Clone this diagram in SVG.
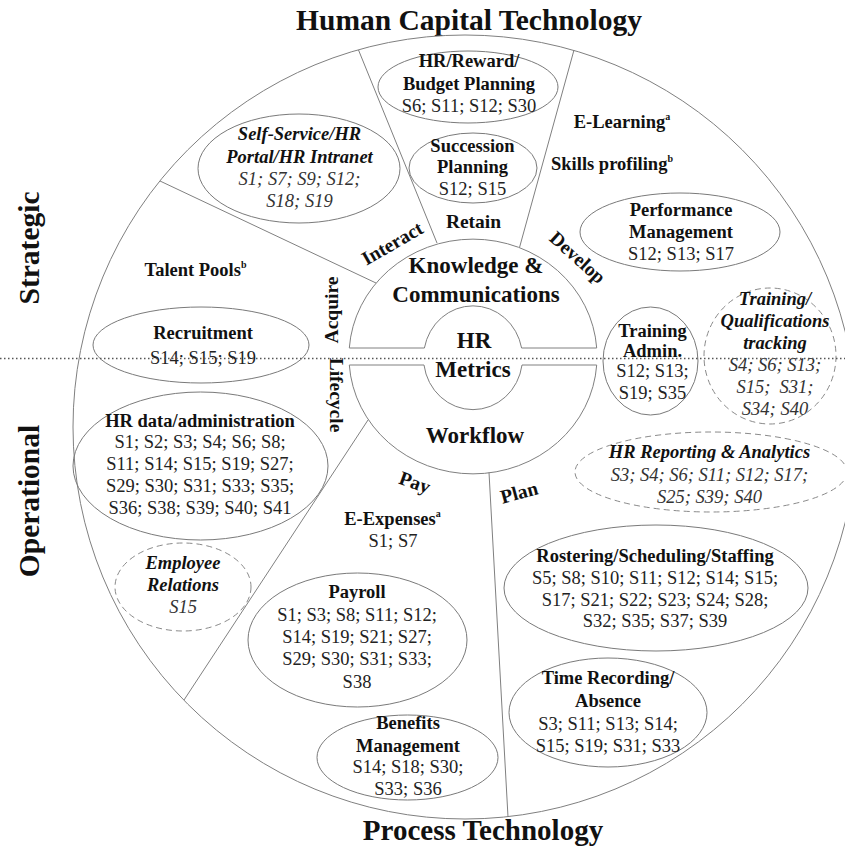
<svg xmlns="http://www.w3.org/2000/svg" width="845" height="847" viewBox="0 0 845 847">
<style>
.ln{fill:none;stroke:#808080;stroke-width:1}
.el{fill:none;stroke:#7a7a7a;stroke-width:1}
.ds{fill:none;stroke:#8a8a8a;stroke-width:1;stroke-dasharray:6,4}
text{font-family:"Liberation Serif","Times New Roman",serif;text-anchor:middle}
.t{font-size:29.5px;font-weight:bold;fill:#111}
.b{font-size:18.5px;font-weight:bold;fill:#111}
.bi{font-size:18.5px;font-weight:bold;font-style:italic;fill:#111}
.r{font-size:18.5px;fill:#222}
.i{font-size:18.5px;font-style:italic;fill:#333}
.lab{font-size:19.5px;font-weight:bold;fill:#111}
.core{font-size:23px;font-weight:bold;fill:#111}
.sup{font-size:10px;font-weight:bold}
</style>
<rect width="845" height="847" fill="#fff"/>

<g id="titles">
<text class="t" x="469" y="30">Human Capital Technology</text>
<text class="t" x="483" y="840" style="font-size:29px">Process Technology</text>
<text class="t" transform="translate(39,248) rotate(-90)">Strategic</text>
<text class="t" transform="translate(39,501) rotate(-90)">Operational</text>
</g>

<g id="connectors">
<circle class="ln" cx="465" cy="427" r="392"/>
<line class="ln" x1="358.5" y1="50" x2="437" y2="243"/>
<line class="ln" x1="574" y1="50" x2="519.5" y2="247.5"/>
<line class="ln" x1="160" y1="181" x2="376" y2="283"/>
<line class="ln" x1="184" y1="700" x2="368" y2="420"/>
<line class="ln" x1="508" y1="817" x2="489" y2="472.5"/>
</g>

<g id="core">
<path class="ln" d="M349.3,348 A124,117 0 0 1 596.7,348 L521.6,348 A49.5,52 0 0 0 424.4,348 Z"/>
<path class="ln" d="M349.3,365 L424,365 A49.5,52 0 0 0 522,365 L596.7,365 A124,117 0 0 1 349.3,365 Z"/>
<text class="core" x="476" y="273">Knowledge &amp;</text>
<text class="core" x="476" y="302">Communications</text>
<text class="core" x="474" y="348">HR</text>
<text class="core" x="473" y="377">Metrics</text>
<text class="core" x="475" y="443">Workflow</text>
</g>

<g id="ring-labels">
<text class="lab" transform="translate(392,243) rotate(-30)" y="7">Interact</text>
<text class="lab" x="473.5" y="228">Retain</text>
<text class="lab" transform="translate(578,257) rotate(42)" y="7">Develop</text>
<text class="lab" transform="translate(331,310) rotate(-90)" y="7">Acquire</text>
<text class="lab" transform="translate(337,395) rotate(90)" y="7">Lifecycle</text>
<text class="lab" transform="translate(415,482) rotate(20)" y="7">Pay</text>
<text class="lab" transform="translate(519,492) rotate(-15)" y="7">Plan</text>
</g>

<g id="hr-reward">
<ellipse class="el" cx="468" cy="87" rx="90" ry="36"/>
<text class="b" x="469" y="67">HR/Reward/</text>
<text class="b" x="469" y="89.5">Budget Planning</text>
<text class="r" x="469" y="111.5">S6; S11; S12; S30</text>
</g>

<g id="succession">
<ellipse class="el" cx="473" cy="168" rx="64" ry="35"/>
<text class="b" x="472.5" y="151.5">Succession</text>
<text class="b" x="472.5" y="173">Planning</text>
<text class="r" x="472.5" y="195">S12; S15</text>
</g>

<g id="self-service">
<ellipse class="el" cx="299" cy="168.5" rx="101" ry="54.5"/>
<text class="bi" x="299.5" y="140">Self-Service/HR</text>
<text class="bi" x="299.5" y="162.5">Portal/HR Intranet</text>
<text class="i" x="299.5" y="185">S1; S7; S9; S12;</text>
<text class="i" x="299.5" y="206.5">S18; S19</text>
</g>

<g id="e-learning">
<text class="b" x="622" y="128">E-Learning<tspan class="sup" dy="-8">a</tspan></text>
</g>
<g id="skills">
<text class="b" x="612" y="170">Skills profiling<tspan class="sup" dy="-8">b</tspan></text>
</g>

<g id="performance">
<ellipse class="el" cx="680" cy="232" rx="100" ry="39"/>
<text class="b" x="681" y="215.5">Performance</text>
<text class="b" x="681" y="237.5">Management</text>
<text class="r" x="681" y="260">S12; S13; S17</text>
</g>

<g id="training-admin">
<ellipse class="el" cx="650.5" cy="361" rx="47.5" ry="54"/>
<text class="b" x="652.5" y="337">Training</text>
<text class="b" x="652.5" y="356.5">Admin.</text>
<text class="r" x="652.5" y="377">S12; S13;</text>
<text class="r" x="652.5" y="399">S19; S35</text>
</g>

<g id="training-tracking">
<ellipse class="ds" cx="770" cy="356" rx="66" ry="68"/>
<text class="bi" x="775" y="305">Training/</text>
<text class="bi" x="775" y="327">Qualifications</text>
<text class="bi" x="775" y="349">tracking</text>
<text class="i" x="775" y="371">S4; S6; S13;</text>
<text class="i" x="775" y="393" xml:space="preserve">S15;  S31;</text>
<text class="i" x="775" y="415">S34; S40</text>
</g>

<g id="hr-reporting">
<ellipse class="ds" cx="711" cy="472" rx="136" ry="40"/>
<text class="bi" x="709.5" y="458">HR Reporting &amp; Analytics</text>
<text class="i" x="709.5" y="481">S3; S4; S6; S11; S12; S17;</text>
<text class="i" x="709.5" y="503">S25; S39; S40</text>
</g>

<g id="rostering">
<ellipse class="el" cx="656" cy="588" rx="152" ry="63"/>
<text class="b" x="655" y="562">Rostering/Scheduling/Staffing</text>
<text class="r" x="655" y="583.5">S5; S8; S10; S11; S12; S14; S15;</text>
<text class="r" x="655" y="605.5">S17; S21; S22; S23; S24; S28;</text>
<text class="r" x="655" y="627">S32; S35; S37; S39</text>
</g>

<g id="time-recording">
<ellipse class="el" cx="608" cy="712.5" rx="99" ry="54.5"/>
<text class="b" x="608" y="684">Time Recording/</text>
<text class="b" x="608" y="707">Absence</text>
<text class="r" x="608" y="730">S3; S11; S13; S14;</text>
<text class="r" x="608" y="752">S15; S19; S31; S33</text>
</g>

<g id="payroll">
<ellipse class="el" cx="357.5" cy="640" rx="109.5" ry="67"/>
<text class="b" x="357" y="598">Payroll</text>
<text class="r" x="357" y="621">S1; S3; S8; S11; S12;</text>
<text class="r" x="357" y="643">S14; S19; S21; S27;</text>
<text class="r" x="357" y="665">S29; S30; S31; S33;</text>
<text class="r" x="357" y="688">S38</text>
</g>

<g id="benefits">
<ellipse class="el" cx="407.5" cy="757.5" rx="90.5" ry="42.5"/>
<text class="b" x="408" y="729">Benefits</text>
<text class="b" x="408" y="751.5">Management</text>
<text class="r" x="408" y="773">S14; S18; S30;</text>
<text class="r" x="408" y="795">S33; S36</text>
</g>

<g id="e-expenses">
<text class="b" x="392.5" y="525">E-Expenses<tspan class="sup" dy="-8">a</tspan></text>
<text class="r" x="393" y="547">S1; S7</text>
</g>

<g id="hr-data">
<ellipse class="el" cx="200.5" cy="466" rx="127.5" ry="74"/>
<text class="b" x="200" y="426.5">HR data/administration</text>
<text class="r" x="200" y="448">S1; S2; S3; S4; S6; S8;</text>
<text class="r" x="200" y="470">S11; S14; S15; S19; S27;</text>
<text class="r" x="200" y="492">S29; S30; S31; S33; S35;</text>
<text class="r" x="200" y="514">S36; S38; S39; S40; S41</text>
</g>

<g id="recruitment">
<ellipse class="el" cx="201" cy="345" rx="108" ry="38"/>
<text class="b" x="203" y="339">Recruitment</text>
<text class="r" x="203" y="364">S14; S15; S19</text>
</g>

<g id="talent-pools">
<text class="b" x="195.5" y="276">Talent Pools<tspan class="sup" dy="-8">b</tspan></text>
</g>

<g id="employee-relations">
<ellipse class="ds" cx="183" cy="587" rx="68" ry="44"/>
<text class="bi" x="183" y="568.5">Employee</text>
<text class="bi" x="183" y="591">Relations</text>
<text class="i" x="183" y="613">S15</text>
</g>

<g id="divider">
<line x1="0" y1="358.5" x2="845" y2="358.5" stroke="#555" stroke-width="1.3" stroke-dasharray="1.5,2.5"/>
</g>
</svg>
